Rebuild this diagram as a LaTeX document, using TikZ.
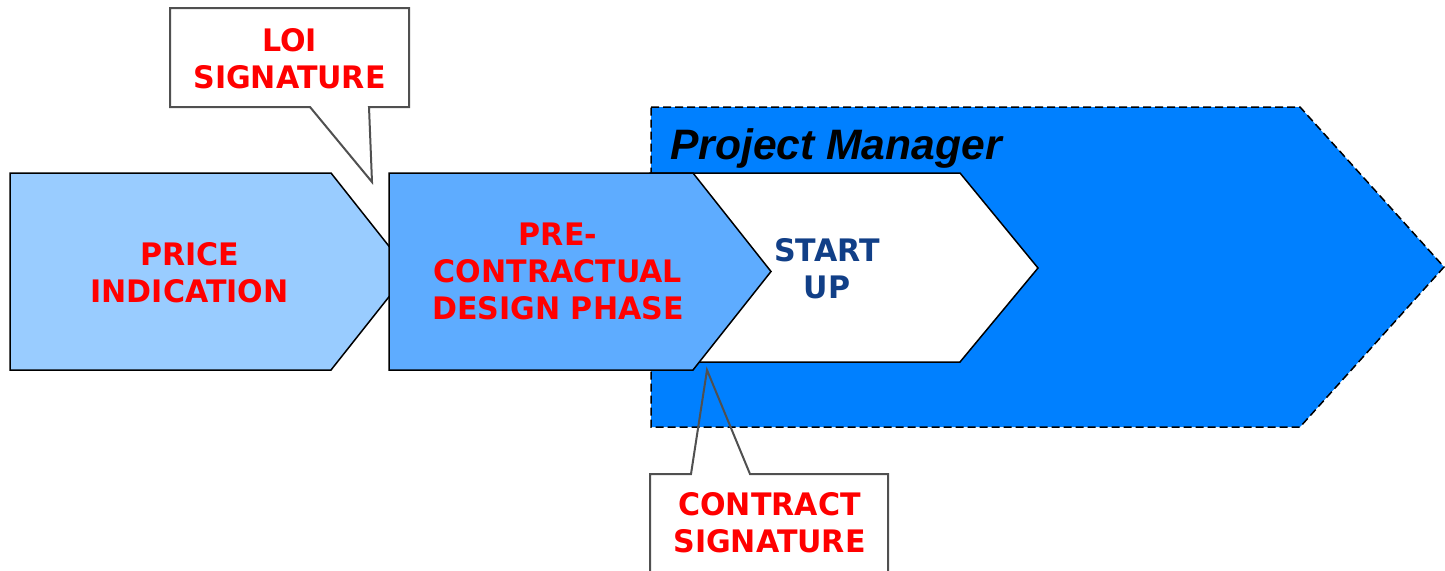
\documentclass[tikz,border=0pt]{standalone}
\usepackage{fontspec}
\setmainfont{DejaVu Sans}
\newfontfamily\lblfont[FakeStretch=0.97]{DejaVu Sans}
\newfontfamily\pmfont{Liberation Sans}
\definecolor{pmblue}{RGB}{0,128,255}
\definecolor{priceblue}{RGB}{153,204,255}
\definecolor{preblue}{RGB}{94,172,255}
\definecolor{labelred}{RGB}{255,0,0}
\definecolor{startblue}{RGB}{17,63,135}
\definecolor{calloutgray}{RGB}{80,80,80}
\begin{document}
\begin{tikzpicture}[x=1pt,y=-1pt,
  chev/.style={draw=black,line width=1.5pt,line join=miter},
  lbl/.style={font=\lblfont\bfseries\fontsize{31}{37}\selectfont,align=center,inner sep=0pt,text=labelred},
  callout/.style={draw=calloutgray,line width=2pt,line join=miter},
  pmborder/.style={draw=black,line width=1.5pt,dash pattern=on 8pt off 4pt}]
\useasboundingbox (0,0) rectangle (1445,570);
\clip (0,0) rectangle (1445,570);
% Project Manager area
\path[fill=pmblue,pmborder] (651,107) -- (1300,107) -- (1444,267) -- (1300,427) -- (651,427) -- cycle;
\node[anchor=base west,inner sep=0pt,font=\pmfont\bfseries\itshape\fontsize{42.6}{50}\selectfont] (pm) at (670,159) {Project Manager};
% Start up chevron
\path[chev,fill=white] (650,173) -- (960,173) -- (1038,268) -- (960,362) -- (650,362) -- cycle;
% Price indication chevron
\path[chev,fill=priceblue] (10,173) -- (331,173) -- (409,271.5) -- (331,370) -- (10,370) -- cycle;
% Pre-contractual chevron
\path[chev,fill=preblue] (389,173) -- (693,173) -- (771,271.5) -- (693,370) -- (389,370) -- cycle;
% Labels
\node[lbl] (price) at (189.5,273.2) {PRICE\\INDICATION};
\node[lbl] (pre) at (558,271) {PRE-\\CONTRACTUAL\\DESIGN PHASE};
\node[lbl,text=startblue] (start) at (827,268.7) {START\\UP};
% LOI callout
\fill[white] (170,8) rectangle (409,107);
\draw[callout] (310,107) -- (170,107) -- (170,8) -- (409,8) -- (409,107) -- (369,107) -- (372,182) -- cycle;
\node[lbl] (loi) at (289.5,58.7) {LOI\\SIGNATURE};
% Contract callout
\fill[white] (650,474) rectangle (888,590);
\draw[callout] (691,474) -- (707,370) -- (750,474) -- (888,474) -- (888,590) -- (650,590) -- (650,474) -- cycle;
\node[lbl] (contract) at (769.5,523.2) {CONTRACT\\SIGNATURE};
\end{tikzpicture}
\end{document}
